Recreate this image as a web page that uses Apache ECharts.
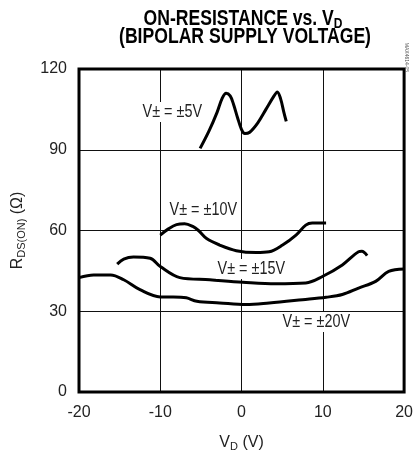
<!DOCTYPE html>
<html>
<head>
<meta charset="utf-8">
<script src="https://cdn.jsdelivr.net/npm/echarts@6/dist/echarts.min.js"></script>
<style>
html,body{margin:0;padding:0;background:#fff;}
#c{width:416px;height:457px;}
</style>
</head>
<body>
<div id="c"></div>
<script>
var FONT = '"Liberation Sans","Roboto",sans-serif';

var xTicks = [-20, -10, 0, 10, 20];
var yTicks = [0, 30, 60, 90, 120];

var s5 = [[-5.1,90.5],[-4,97],[-3,104],[-2.4,109],[-1.9,111],[-1.4,110],[-1,107],[-0.5,102],[0,97.5],[0.4,96],[1,96.5],[2,100],[3,105],[4,110],[4.4,111.5],[4.8,109],[5.2,104],[5.5,100.5]];
var s10 = [[-10,58.3],[-9,60.6],[-8,62.2],[-7,62.5],[-6,61.5],[-5.3,60],[-4.3,57],[-2.7,54.6],[-0.65,52.5],[1.8,51.8],[3.4,52.1],[5.05,54.6],[6.7,58.3],[7.9,62],[8.7,62.8],[10.4,62.8]];
var s15 = [[-15.3,47.5],[-14.5,49.4],[-13.3,50.2],[-11.25,49.7],[-10,46.6],[-7.6,42.5],[-3.9,41.7],[0.16,40.8],[4.2,40.2],[7.9,40.5],[9.95,42.9],[12.4,47.2],[14.4,52.1],[14.8,52.3],[15.45,50.7]];
var s20 = [[-20,42.5],[-18.2,43.5],[-16.1,43.5],[-14.5,41.7],[-12.5,38],[-10,35.3],[-8.4,35.3],[-6.8,35],[-5.5,33.7],[-2.7,33.1],[0.57,32.5],[3.4,33.1],[7.5,34.3],[10.4,35.2],[12.4,36.2],[14.4,38.6],[16.5,41.1],[18.1,44.8],[20,45.7]];

var seriesNames = ['V\u00b1 = \u00b15V','V\u00b1 = \u00b110V','V\u00b1 = \u00b115V','V\u00b1 = \u00b120V'];
var seriesData = [s5, s10, s15, s20];

var chart = echarts.init(document.getElementById('c'), null, {renderer:'canvas'});

var series = seriesData.map(function(d, i){
  return {
    name: seriesNames[i], type:'line', data:d, smooth:0.35, symbol:'none',
    lineStyle:{color:'#000', width:3}, z:5
  };
});

var subRich = {sub:{fontFamily:FONT, fontSize:11, color:'#222', verticalAlign:'bottom', padding:[7,0,0,0]}};

function label(txt, x, y){
  return {type:'text', x:x, y:y, z:20, scaleX:0.8,
    style:{text:txt, fontFamily:FONT, fontSize:18, fill:'#222', backgroundColor:'#fff', padding:[1,2,1,2], verticalAlign:'middle', align:'left'}};
}

chart.setOption({
  animation:false,
  backgroundColor:'#fff',
  grid:{left:79, right:10, top:69, bottom:62, show:true, borderColor:'#000', borderWidth:3, z:10},
  xAxis:{
    type:'value', min:-20, max:20, interval:10,
    axisLine:{show:false}, axisTick:{show:false},
    splitLine:{show:true, lineStyle:{color:'#111', width:1}},
    axisLabel:{fontFamily:FONT, fontSize:16, color:'#222', margin:13, formatter:function(v){return xTicks.indexOf(v)>=0? String(v):'';}},
    name:'V{sub|D} (V)', nameLocation:'middle', nameGap:42,
    nameTextStyle:{fontFamily:FONT, fontSize:16, color:'#222', rich:subRich}
  },
  yAxis:{
    type:'value', min:0, max:120, interval:30,
    axisLine:{show:false}, axisTick:{show:false},
    splitLine:{show:true, lineStyle:{color:'#111', width:1}},
    axisLabel:{fontFamily:FONT, fontSize:16, color:'#222', margin:12, formatter:function(v){return yTicks.indexOf(v)>=0? String(v):'';}},
    name:'R{sub|DS(ON)} (\u03a9)', nameLocation:'middle', nameGap:52, nameRotate:90,
    nameTextStyle:{fontFamily:FONT, fontSize:16, color:'#222', rich:subRich}
  },
  series: series,
  graphic:[
    {type:'text', x:243, y:7, z:20, scaleX:0.8,
      style:{text:'ON-RESISTANCE vs. V{sub|D}', fontFamily:FONT, fontWeight:'bold', fontSize:22, fill:'#000', align:'center', verticalAlign:'top',
        rich:{sub:{fontFamily:FONT, fontWeight:'bold', fontSize:15, fill:'#000', verticalAlign:'bottom', padding:[9,0,0,0]}}}},
    {type:'text', x:245, y:26, z:20, scaleX:0.8,
      style:{text:'(BIPOLAR SUPPLY VOLTAGE)', fontFamily:FONT, fontWeight:'bold', fontSize:22, fill:'#000', align:'center', verticalAlign:'top'}},
    label(seriesNames[0], 141, 112),
    label(seriesNames[1], 168, 210),
    label(seriesNames[2], 216, 269),
    label(seriesNames[3], 281, 322),
    {type:'text', x:409, y:72, z:20, rotation:-Math.PI/2, style:{text:'MAX4614-05', fontFamily:FONT, fontSize:5, fill:'#555', align:'right', verticalAlign:'top'}}
  ]
});
</script>
</body>
</html>
